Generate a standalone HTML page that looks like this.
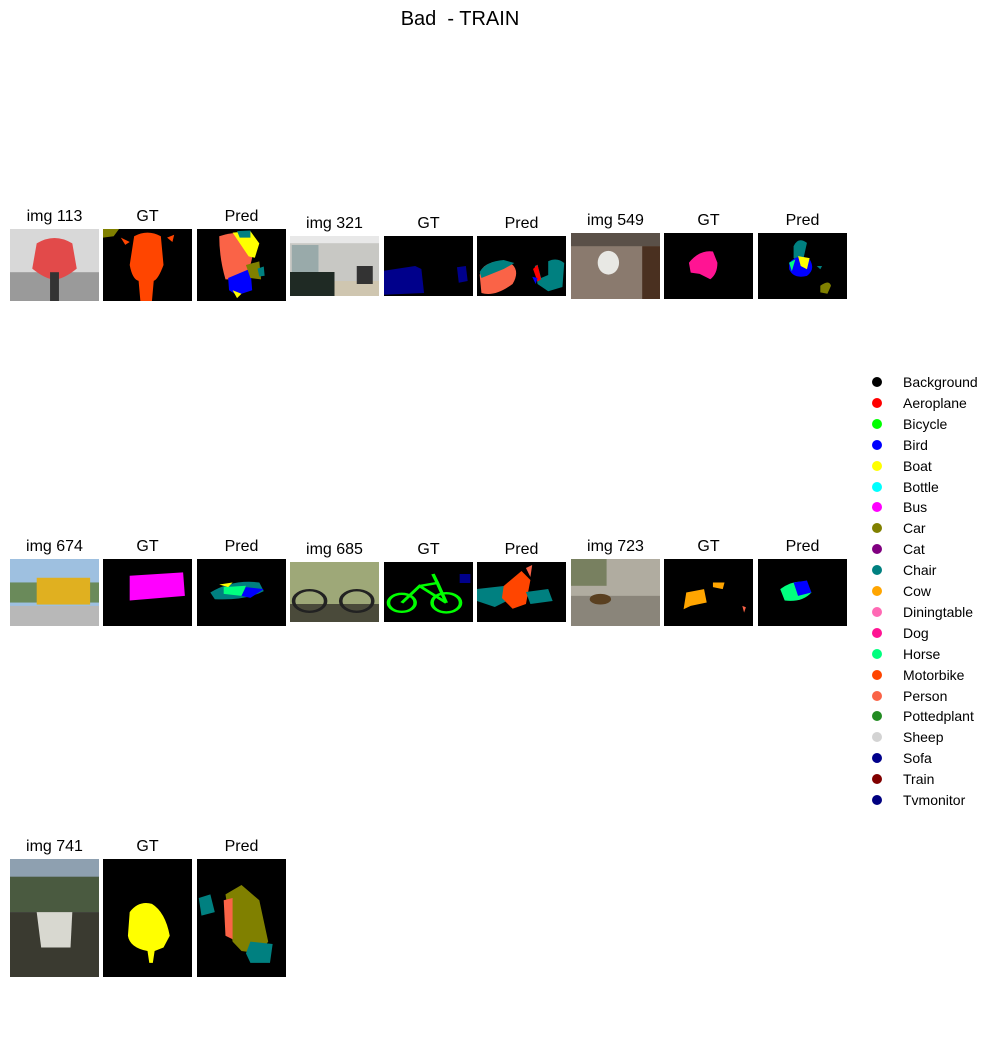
<!DOCTYPE html>
<html><head><meta charset="utf-8"><style>
body{margin:0;background:#fff;font-family:"Liberation Sans","DejaVu Sans",sans-serif;}
#root{position:relative;width:1001px;height:1064px;overflow:hidden;}
.t{position:absolute;font-size:16px;text-align:center;width:120px;color:#000;}
.p{position:absolute;}
.p svg{display:block;width:100%;height:100%}
.lg{position:absolute;font-size:14px;left:903px;}
.dot{position:absolute;left:872px;width:10px;height:10px;border-radius:50%;}
</style></head><body>
<div id="root">
<div class="t" style="left:360px;top:8px;width:200px;font-size:20px">Bad&nbsp; - TRAIN</div>
</div>
<script>
const root=document.getElementById('root');
const panels=[
 [10,229,72,'img 113','image-113','<rect width="100" height="100" fill="#d8d8d8"/><rect x="0" y="60" width="100" height="40" fill="#9a9a9a"/><path d="M30 20 Q50 5 70 20 L75 55 Q60 70 50 70 Q40 70 25 55Z" fill="#e24a4a"/><rect x="45" y="60" width="10" height="40" fill="#333"/>'],
 [103,229,72,'GT','gt-113','<rect width="100" height="100" fill="#000"/><path d="M0 0 L18 0 L12 10 L0 12Z" fill="#808000"/><path d="M35 10 Q50 0 65 10 L68 50 Q62 70 57 72 L55 100 L42 100 L40 72 Q33 70 30 50Z" fill="#ff4500"/><path d="M20 12 L30 18 L25 22Z M72 12 L80 8 L78 18Z" fill="#ff4500"/>'],
 [197,229,72,'Pred','pred-113','<rect width="100" height="100" fill="#000"/><path d="M25 10 Q45 2 58 8 L62 40 Q58 65 45 70 L32 70 Q25 40 25 10Z" fill="#fa6347"/><path d="M40 5 L60 3 L70 20 L65 40 L58 38Z" fill="#ffff00"/><path d="M45 3 L60 2 L60 12 L48 12Z" fill="#008080"/><path d="M35 68 L60 55 L62 85 L45 92 L36 85Z" fill="#0000ff"/><path d="M55 50 L70 45 L72 70 L60 68Z" fill="#808000"/><path d="M68 55 L75 52 L76 65 L70 66Z" fill="#008080"/><path d="M40 85 L50 90 L45 96Z" fill="#ffff00"/>'],
 [290,236,60,'img 321','image-321','<rect width="100" height="100" fill="#c8c8c4"/><rect x="0" y="0" width="100" height="12" fill="#e8e8e8"/><rect x="2" y="15" width="30" height="45" fill="#9aa"/><rect x="0" y="60" width="50" height="40" fill="#1f2a24"/><rect x="50" y="75" width="50" height="25" fill="#cfc6b0"/><rect x="75" y="50" width="18" height="30" fill="#333"/>'],
 [384,236,60,'GT','gt-321','<rect width="100" height="100" fill="#000"/><path d="M0 58 L35 50 L42 55 L45 95 L0 98Z" fill="#00008b"/><path d="M82 52 L92 50 L94 75 L84 78Z" fill="#00008b"/>'],
 [477,236,60,'Pred','pred-321','<rect width="100" height="100" fill="#000"/><path d="M3 65 Q5 42 30 42 L40 48 Q48 60 40 80 Q20 102 5 95Z" fill="#fa6347"/><path d="M3 60 Q10 42 30 40 L42 45 L30 55 L5 70Z" fill="#008080"/><path d="M65 50 L68 48 L72 70 L80 65 L80 42 Q90 35 98 45 L96 85 L80 92 L68 80Z" fill="#008080"/><path d="M63 55 L68 48 L72 72 L68 76Z" fill="#ff0000"/><path d="M62 68 L68 70 L66 80Z" fill="#0000ff"/>'],
 [571,233,66,'img 549','image-549','<rect width="100" height="100" fill="#8a7a6e"/><rect x="0" y="0" width="100" height="20" fill="#5a5048"/><rect x="80" y="20" width="20" height="80" fill="#4a3020"/><ellipse cx="42" cy="45" rx="12" ry="18" fill="#e8e8e4"/>'],
 [664,233,66,'GT','gt-549','<rect width="100" height="100" fill="#000"/><path d="M28 45 Q40 25 55 28 L60 45 Q60 62 52 70 L40 62 L30 60Z" fill="#ff1493"/>'],
 [758,233,66,'Pred','pred-549','<rect width="100" height="100" fill="#000"/><path d="M40 20 Q45 5 55 15 L50 45 L40 38Z" fill="#008080"/><path d="M35 45 Q45 30 58 40 Q65 55 55 65 Q40 70 35 55Z" fill="#0000ff"/><path d="M45 35 L58 38 L55 55 L48 50Z" fill="#ffff00"/><path d="M35 45 L42 40 L38 58Z" fill="#00ff7f"/><path d="M70 80 Q80 70 82 80 L78 92 L70 90Z" fill="#808000"/><path d="M66 50 L72 50 L70 55Z" fill="#008080"/>'],
 [10,559,67,'img 674','image-674','<rect width="100" height="100" fill="#9ec0e0"/><rect x="0" y="35" width="100" height="30" fill="#6a8a5a"/><rect x="30" y="28" width="60" height="40" fill="#e0b020"/><rect x="0" y="70" width="100" height="30" fill="#b8b8b8"/>'],
 [103,559,67,'GT','gt-674','<rect width="100" height="100" fill="#000"/><path d="M30 25 L90 20 L92 55 L30 62Z" fill="#ff00ff"/>'],
 [197,559,67,'Pred','pred-674','<rect width="100" height="100" fill="#000"/><path d="M15 50 Q40 30 70 35 L75 48 Q55 62 20 60Z" fill="#008080"/><path d="M30 42 L55 40 L50 55 L30 52Z" fill="#00ff7f"/><path d="M55 42 L75 45 L60 58 L50 55Z" fill="#0000ff"/><path d="M25 38 L40 35 L35 42Z" fill="#ffff00"/>'],
 [290,562,60,'img 685','image-685','<rect width="100" height="100" fill="#9ea878"/><rect x="0" y="70" width="100" height="30" fill="#4a4a3a"/><circle cx="22" cy="65" r="18" fill="none" stroke="#222" stroke-width="4"/><circle cx="75" cy="65" r="18" fill="none" stroke="#222" stroke-width="4"/>'],
 [384,562,60,'GT','gt-685','<rect width="100" height="100" fill="#000"/><g fill="none" stroke="#00ff00" stroke-width="4"><circle cx="20" cy="68" r="15"/><circle cx="70" cy="68" r="16"/><path d="M20 68 L40 40 L70 68 M40 40 L60 35 L70 68 M55 20 L60 35"/></g><rect x="85" y="20" width="12" height="15" fill="#00008b"/>'],
 [477,562,60,'Pred','pred-685','<rect width="100" height="100" fill="#000"/><path d="M0 45 L30 40 L40 60 L20 75 L0 65Z" fill="#008080"/><path d="M30 40 L50 15 L60 30 L55 70 L40 78 L28 60Z" fill="#ff4500"/><path d="M55 50 L80 45 L85 65 L60 70Z" fill="#008080"/><path d="M55 10 L62 5 L60 25Z" fill="#fa6347"/>'],
 [571,559,67,'img 723','image-723','<rect width="100" height="100" fill="#b0aca0"/><rect x="0" y="0" width="40" height="40" fill="#788060"/><rect x="0" y="55" width="100" height="45" fill="#8a857a"/><ellipse cx="33" cy="60" rx="12" ry="8" fill="#5a4020"/>'],
 [664,559,67,'GT','gt-723','<rect width="100" height="100" fill="#000"/><path d="M25 50 L45 45 L48 65 L30 70 L22 75Z" fill="#ffa500"/><path d="M55 35 L68 35 L66 45 L55 42Z" fill="#ffa500"/><path d="M88 70 L92 72 L90 80Z" fill="#fa6347"/>'],
 [758,559,67,'Pred','pred-723','<rect width="100" height="100" fill="#000"/><path d="M25 45 Q40 30 55 35 L60 50 Q50 65 30 62Z" fill="#00ff7f"/><path d="M40 35 L55 32 L60 50 L45 55Z" fill="#0000ff"/>'],
 [10,859,118,'img 741','image-741','<rect width="100" height="100" fill="#8ea0b0"/><rect x="0" y="15" width="100" height="30" fill="#4a5a40"/><rect x="0" y="45" width="100" height="55" fill="#3a3a30"/><path d="M30 45 L70 45 L68 75 L35 75Z" fill="#d8d8d0"/>'],
 [103,859,118,'GT','gt-741','<rect width="100" height="100" fill="#000"/><path d="M30 45 Q40 35 55 38 Q70 45 75 65 L68 75 L58 78 L56 88 L52 88 L50 78 Q30 75 28 65Z" fill="#ffff00"/>'],
 [197,859,118,'Pred','pred-741','<rect width="100" height="100" fill="#000"/><path d="M2 33 L15 30 L20 45 L5 48Z" fill="#008080"/><path d="M32 30 L50 22 L70 35 L80 70 L70 80 L50 78 L40 70 L35 45Z" fill="#808000"/><path d="M30 35 L40 33 L40 68 L32 65Z" fill="#fa6347"/><path d="M60 70 L85 72 L82 88 L60 88 L55 80Z" fill="#008080"/>']
];
panels.forEach(p=>{
  const [x,y,h,title,name,svg]=p;
  const t=document.createElement('div');
  t.className='t';
  
  
  t.style.left=(x+44.5-60)+'px';t.style.top=(y-21)+'px';
  t.textContent=title;root.appendChild(t);
  const d=document.createElement('div');
  d.className='p';
  
  
  d.style.left=x+'px';d.style.top=y+'px';d.style.width='89px';d.style.height=h+'px';
  d.innerHTML='<svg viewBox="0 0 100 100" preserveAspectRatio="none">'+svg+'</svg>';
  root.appendChild(d);
});
const legendLabels=['Background','Aeroplane','Bicycle','Bird','Boat','Bottle','Bus','Car','Cat','Chair','Cow','Diningtable','Dog','Horse','Motorbike','Person','Pottedplant','Sheep','Sofa','Train','Tvmonitor'];
const legendColors=['#000000','#ff0000','#00ff00','#0000ff','#ffff00','#00ffff','#ff00ff','#808000','#800080','#008080','#ffa500','#ff69b4','#ff1493','#00ff7f','#ff4500','#fa6347','#228b22','#d3d3d3','#00008b','#800000','#000080'];
legendLabels.forEach((l,i)=>{
  const y=382+i*20.9;
  const dd=document.createElement('div');
  dd.className='dot';
  
  
  dd.style.top=(y-5)+'px';dd.style.background=legendColors[i];root.appendChild(dd);
  const t=document.createElement('div');
  t.className='lg';
  
  
  t.style.top=(y-8)+'px';t.textContent=l;root.appendChild(t);
});
</script>
</body></html>
